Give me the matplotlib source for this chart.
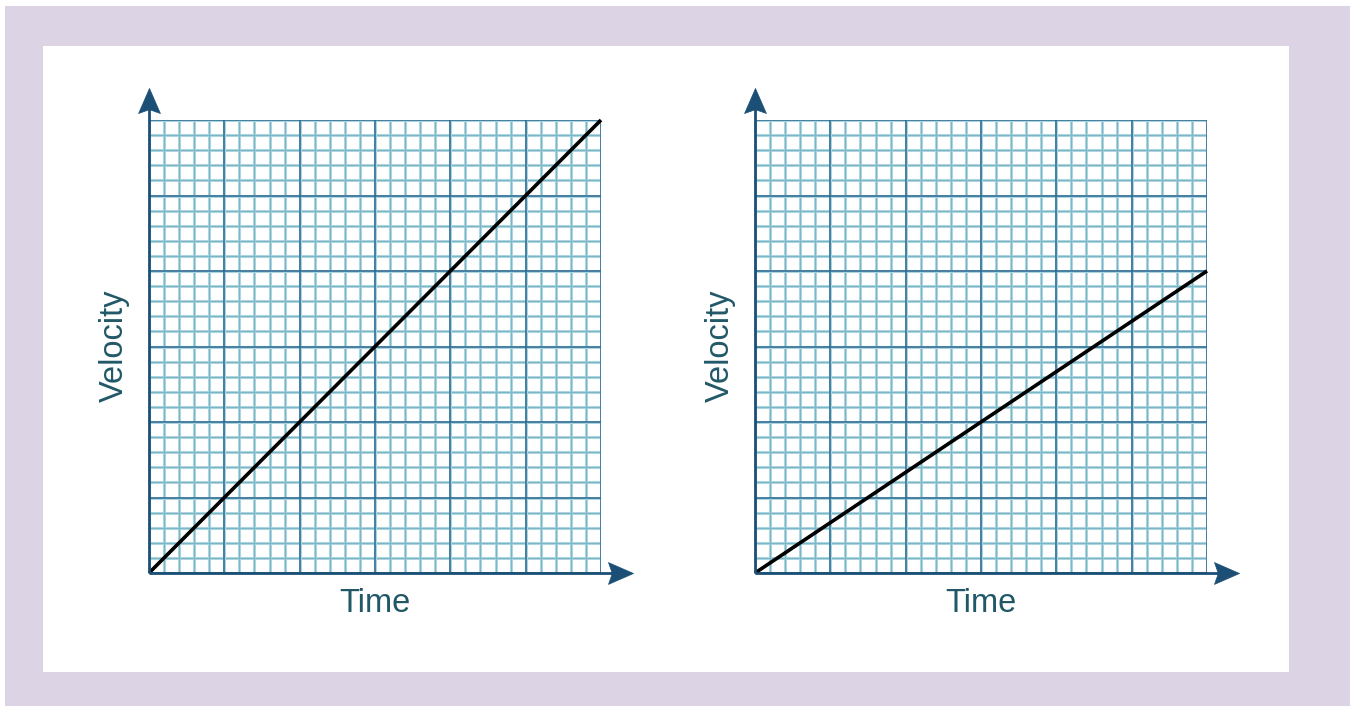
import matplotlib
matplotlib.use("Agg")
import matplotlib.pyplot as plt
from matplotlib.patches import Rectangle
from matplotlib.path import Path
from matplotlib.markers import MarkerStyle

plt.rcParams['font.family'] = ['Liberation Sans', 'DejaVu Sans']

# Data
x_label = "Time"
y_label = "Velocity"
grid_max = 30
minor_step = 1
major_step = 5
line_times = [[0, 30], [0, 30]]
line_velocities = [[0, 30], [0, 20]]

W, H = 1355, 706
fig = plt.figure(figsize=(W / 100, H / 100), dpi=100, facecolor="white")

# background frames
fig.patches.append(Rectangle((5 / W, 0), (1350 - 5) / W, (706 - 6) / H,
                             transform=fig.transFigure, facecolor="#dcd4e4",
                             edgecolor="none", zorder=-10))
fig.patches.append(Rectangle((43 / W, (706 - 672) / H), (1289 - 43) / W, (672 - 46) / H,
                             transform=fig.transFigure, facecolor="white",
                             edgecolor="none", zorder=-9))

axis_col = "#1b4f75"
major_col = "#2a6890"
minor_light = "#acd5df"
minor_dark = "#7ab7c7"
text_col = "#215868"

up_head = MarkerStyle(Path([(0, 0), (-0.48, -1.1), (0, -0.93), (0.48, -1.1), (0, 0)],
                           [1, 2, 2, 2, 79]))
right_head = MarkerStyle(Path([(0, 0), (-1.1, 0.48), (-0.93, 0), (-1.1, -0.48), (0, 0)],
                              [1, 2, 2, 2, 79]))

lefts = [149, 755]
for i, left in enumerate(lefts):
    ax = fig.add_axes([left / W, (706 - 573) / H, 452 / W, 453 / H])
    ax.set_xlim(0, grid_max)
    ax.set_ylim(0, grid_max)
    ax.axis("off")
    ax.patch.set_alpha(0)
    for v in range(0, grid_max + 1, minor_step):
        if v % major_step == 0:
            continue
        for f in (ax.axvline, ax.axhline):
            f(v, color=minor_light, lw=2.2, zorder=1)
            f(v, color=minor_dark, lw=0.7, zorder=1.1)
    for v in range(0, grid_max + 1, major_step):
        for f in (ax.axvline, ax.axhline):
            f(v, color=minor_light, lw=2.2, zorder=1.2)
            f(v, color=major_col, lw=1.1, zorder=1.3)

    # axis arrows
    ax.plot([0, 0], [0, 1.045], transform=ax.transAxes, color=axis_col, lw=2,
            clip_on=False, zorder=5, solid_capstyle="butt")
    ax.plot([0, 1.045], [0, 0], transform=ax.transAxes, color=axis_col, lw=2,
            clip_on=False, zorder=5, solid_capstyle="butt")
    ax.plot([0], [1.071], transform=ax.transAxes, marker=up_head, ms=36,
            color=axis_col, mec=axis_col, mew=0.5, clip_on=False, zorder=6)
    ax.plot([1.071], [0], transform=ax.transAxes, marker=right_head, ms=36,
            color=axis_col, mec=axis_col, mew=0.5, clip_on=False, zorder=6)

    ax.plot(line_times[i], line_velocities[i], color="black", lw=2.6,
            solid_capstyle="butt", zorder=4, clip_on=False)

    ax.text(-0.076, 0.501, y_label, transform=ax.transAxes, rotation=90,
            ha="center", va="center", fontsize=23.5, color=text_col)
    ax.text(0.5, -0.068, x_label, transform=ax.transAxes,
            ha="center", va="center", fontsize=23.5, color=text_col)

fig.savefig("out.png", dpi=100, facecolor="white")
